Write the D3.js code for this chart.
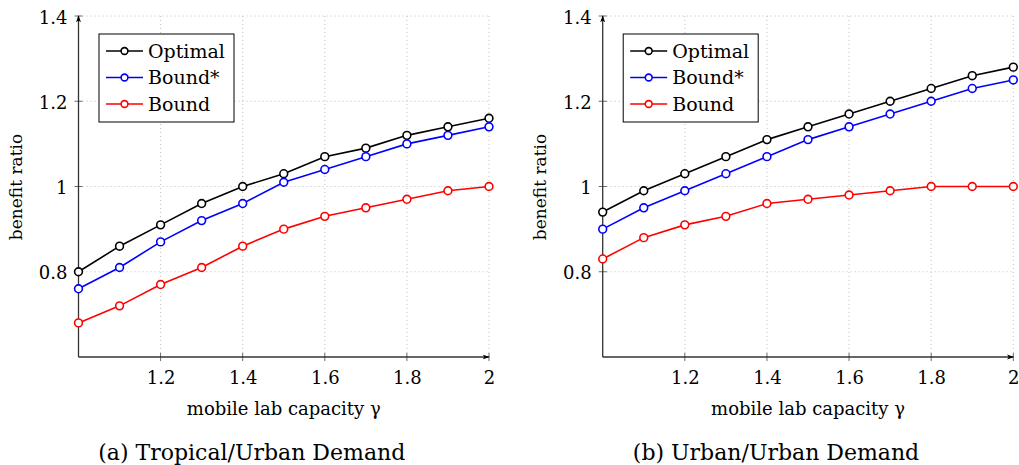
<!DOCTYPE html>
<html>
<head>
<meta charset="utf-8">
<script src="https://cdn.jsdelivr.net/npm/d3@7"></script>
<style>
  html, body { margin: 0; padding: 0; background: #fff; }
  svg, svg text { font-family: "DejaVu Serif", serif; }
</style>
</head>
<body>
<svg id="chart" width="1019" height="465" font-family="DejaVu Serif"></svg>
<script>
// ---- data ----
const gamma = [1.0, 1.1, 1.2, 1.3, 1.4, 1.5, 1.6, 1.7, 1.8, 1.9, 2.0];
const xTicks = [1.2, 1.4, 1.6, 1.8, 2];
const yTicks = [0.8, 1, 1.2, 1.4];
const seriesNames = ["Optimal", "Bound*", "Bound"];

const tropicalOptimal  = [0.80, 0.86, 0.91, 0.96, 1.00, 1.03, 1.07, 1.09, 1.12, 1.14, 1.16];
const tropicalBoundStar = [0.76, 0.81, 0.87, 0.92, 0.96, 1.01, 1.04, 1.07, 1.10, 1.12, 1.14];
const tropicalBound    = [0.68, 0.72, 0.77, 0.81, 0.86, 0.90, 0.93, 0.95, 0.97, 0.99, 1.00];

const urbanOptimal  = [0.94, 0.99, 1.03, 1.07, 1.11, 1.14, 1.17, 1.20, 1.23, 1.26, 1.28];
const urbanBoundStar = [0.90, 0.95, 0.99, 1.03, 1.07, 1.11, 1.14, 1.17, 1.20, 1.23, 1.25];
const urbanBound    = [0.83, 0.88, 0.91, 0.93, 0.96, 0.97, 0.98, 0.99, 1.00, 1.00, 1.00];

const xTitle = "mobile lab capacity \u03b3";
const yTitle = "benefit ratio";
const captions = ["(a) Tropical/Urban Demand", "(b) Urban/Urban Demand"];

// ---- styles / layout ----
const FONT = "DejaVu Serif";
const seriesColors = ["#000000", "#0000ff", "#ff0000"];
const panels = [
  { left: 78.5, right: 489, caption: captions[0], series: [tropicalOptimal, tropicalBoundStar, tropicalBound] },
  { left: 602.7, right: 1013.3, caption: captions[1], series: [urbanOptimal, urbanBoundStar, urbanBound] }
];
const plotTop = 16, plotBottom = 357;
const fmt = d => String(+(+d).toFixed(1));

const svg = d3.select("#chart");
const defs = svg.append("defs");
defs.append("marker").attr("id", "arrow")
  .attr("viewBox", "0 0 10 10").attr("refX", 9).attr("refY", 5)
  .attr("markerWidth", 7).attr("markerHeight", 7).attr("orient", "auto-start-reverse")
  .attr("markerUnits", "userSpaceOnUse")
  .append("path").attr("d", "M0,1.5 L10,5 L0,8.5 L2.5,5 Z").attr("fill", "#000");

panels.forEach(p => {
  const x = d3.scaleLinear().domain([1, 2]).range([p.left, p.right]);
  const y = d3.scaleLinear().domain([0.6, 1.4]).range([plotBottom, plotTop]);
  const g = svg.append("g");

  // grid
  g.append("g").selectAll("line").data(xTicks).join("line")
    .attr("x1", d => x(d)).attr("x2", d => x(d)).attr("y1", y(0.6)).attr("y2", y(1.4))
    .attr("stroke", "#b0b0b0").attr("stroke-width", 0.8).attr("stroke-dasharray", "1,3");
  g.append("g").selectAll("line").data(yTicks).join("line")
    .attr("x1", x(1)).attr("x2", x(2)).attr("y1", d => y(d)).attr("y2", d => y(d))
    .attr("stroke", "#b0b0b0").attr("stroke-width", 0.8).attr("stroke-dasharray", "1,3");

  // axes via d3 axis
  const xAxis = d3.axisBottom(x).tickValues(xTicks).tickFormat(fmt).tickSize(0).tickPadding(14);
  const xg = g.append("g").attr("transform", `translate(0,${plotBottom})`).call(xAxis)
    .attr("font-family", FONT).attr("font-size", 18);
  xg.select(".domain").remove();
  xg.selectAll("text").attr("font-family", FONT).attr("font-size", 18).attr("fill", "#000");
  g.append("g").selectAll("line").data(xTicks).join("line")
    .attr("x1", d => x(d)).attr("x2", d => x(d)).attr("y1", plotBottom - 4).attr("y2", plotBottom + 4)
    .attr("stroke", "#444").attr("stroke-width", 0.8);

  const yAxis = d3.axisLeft(y).tickValues(yTicks).tickFormat(fmt).tickSize(0).tickPadding(11);
  const yg = g.append("g").attr("transform", `translate(${p.left},0)`).call(yAxis)
    .attr("font-family", FONT).attr("font-size", 18);
  yg.select(".domain").remove();
  yg.selectAll("text").attr("font-family", FONT).attr("font-size", 18).attr("fill", "#000").attr("dy", "0.4em");
  g.append("g").selectAll("line").data(yTicks).join("line")
    .attr("x1", p.left - 4).attr("x2", p.left + 4).attr("y1", d => y(d)).attr("y2", d => y(d))
    .attr("stroke", "#444").attr("stroke-width", 0.8);

  // axis lines with arrows
  g.append("line").attr("x1", p.left).attr("x2", p.right).attr("y1", plotBottom).attr("y2", plotBottom)
    .attr("stroke", "#333").attr("stroke-width", 1.3).attr("marker-end", "url(#arrow)");
  g.append("line").attr("x1", p.left).attr("x2", p.left).attr("y1", plotBottom).attr("y2", plotTop)
    .attr("stroke", "#333").attr("stroke-width", 1.3).attr("marker-end", "url(#arrow)");

  // series
  const line = d3.line().x((d, i) => x(gamma[i])).y(d => y(d));
  p.series.forEach((vals, si) => {
    const sg = g.append("g");
    sg.append("path").datum(vals).attr("d", line).attr("fill", "none")
      .attr("stroke", seriesColors[si]).attr("stroke-width", 1.6);
    sg.selectAll("circle").data(vals).join("circle")
      .attr("cx", (d, i) => x(gamma[i])).attr("cy", d => y(d)).attr("r", 3.9)
      .attr("fill", "#fff").attr("stroke", seriesColors[si]).attr("stroke-width", 1.6);
  });

  // legend
  const lx = p.left + 20.5, ly = 34;
  const lg = g.append("g");
  lg.append("rect").attr("x", lx).attr("y", ly).attr("width", 135).attr("height", 88)
    .attr("fill", "#fff").attr("stroke", "#000").attr("stroke-width", 1);
  seriesNames.forEach((name, i) => {
    const yy = ly + 17 + i * 26.5;
    lg.append("line").attr("x1", lx + 7).attr("x2", lx + 44).attr("y1", yy).attr("y2", yy)
      .attr("stroke", seriesColors[i]).attr("stroke-width", 1.6);
    lg.append("circle").attr("cx", lx + 25.5).attr("cy", yy).attr("r", 3.4)
      .attr("fill", "#fff").attr("stroke", seriesColors[i]).attr("stroke-width", 1.6);
    lg.append("text").attr("x", lx + 49).attr("y", yy + 6.5)
      .attr("font-family", FONT).attr("font-size", 19).text(name);
  });

  // titles
  const cx = (p.left + p.right) / 2;
  g.append("text").attr("x", cx).attr("y", 415).attr("text-anchor", "middle")
    .attr("font-family", FONT).attr("font-size", 18).text(xTitle);
  g.append("text").attr("transform", `translate(${p.left - 57},${187}) rotate(-90)`)
    .attr("text-anchor", "middle").attr("font-family", FONT).attr("font-size", 17).text(yTitle);
  g.append("text").attr("x", cx - 32).attr("y", 460).attr("text-anchor", "middle")
    .attr("font-family", FONT).attr("font-size", 22).text(p.caption);
});
</script>
</body>
</html>
